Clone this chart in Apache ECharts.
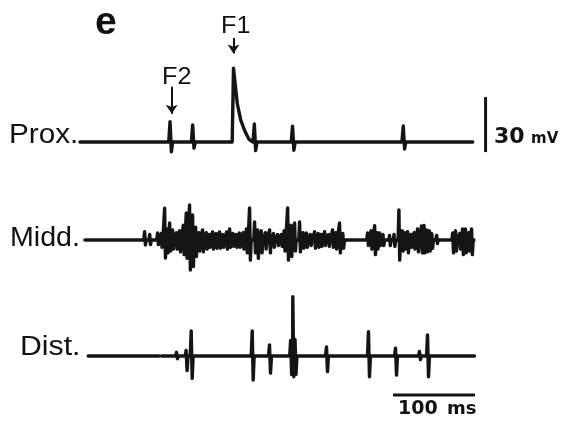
<!DOCTYPE html>
<html>
<head>
<meta charset="utf-8">
<script src="https://cdn.jsdelivr.net/npm/echarts@6/dist/echarts.min.js"></script>
<style>
  html, body { margin: 0; padding: 0; background: #fff; }
  #chart { width: 566px; height: 424px; }
</style>
</head>
<body>
<div id="chart"></div>
<script>
// 时间单位 ms，电压单位 mV（相对各自基线）；尖峰记为 [时间, 上峰, 下峰]
const proxRange = [0, 479];
const proxSpikes = [
    [110.6, 11.1, -5.3],
    [138.2, 9.3, -3.3],
    [213.4, 9.8, -4.7],
    [260.0, 8.6, -4.5],
    [395.0, 8.7, -3.8]
];
// F1 的波形单独描点
const proxF1 = [[185.6, 0], [187.2, 40.2], [188.6, 40.0], [191.8, 21.0], [196.0, 12.0], [201.0, 6.0], [206.0, 1.5], [211.0, 0]];

const middRange = [6, 480.5];
const middSpikes = [
    [79.3, 4.5, -2.7], [85.5, 3.0, -2.5], [95.1, 3.8, -2.5], [99.5, 3.5, -4.0],
    [103.7, 17.3, -9.8], [106.8, 6.0, -7.0], [109.8, 9.3, -6.0], [113.4, 5.5, -5.0],
    [118.0, 4.0, -5.0], [122.0, 5.0, -6.5], [126.5, 8.0, -8.0], [130.1, 14.7, -10.0],
    [134.1, 19.1, -16.4], [137.8, 13.6, -14.5], [141.5, 7.0, -9.0], [145.5, 4.0, -6.0],
    [150.0, 5.5, -6.5], [154.5, 4.0, -5.0], [158.0, 3.0, -4.0], [162.2, 4.4, -5.0],
    [166.5, 3.5, -4.5], [170.7, 4.4, -4.5], [174.8, 3.0, -4.0], [179.3, 4.4, -5.0],
    [183.0, 6.0, -4.0], [187.0, 3.5, -3.5], [191.0, 3.0, -4.0], [195.0, 3.8, -4.0],
    [199.5, 4.0, -5.0], [203.5, 6.0, -7.0], [207.3, 17.5, -11.0], [213.4, 9.8, -7.0],
    [217.0, 5.5, -10.0], [221.5, 5.0, -7.0], [226.5, 4.0, -5.0], [231.7, 5.5, -7.0],
    [236.5, 3.5, -4.0], [241.5, 3.0, -3.0], [246.0, 3.0, -3.5], [249.5, 5.0, -6.0],
    [253.7, 17.5, -11.0], [257.8, 8.0, -9.0], [262.2, 9.3, -6.0], [268.3, 9.8, -6.5],
    [272.5, 4.0, -4.5], [276.8, 3.8, -4.0], [281.5, 3.0, -3.0], [286.6, 4.5, -4.5],
    [291.0, 3.5, -4.0], [294.5, 3.0, -3.5], [298.8, 4.5, -3.0], [303.5, 3.0, -3.5],
    [308.5, 5.5, -4.0], [312.5, 4.0, -5.0], [317.0, 9.3, -7.0], [321.0, 3.5, -4.5],
    [351.2, 3.8, -3.0], [355.5, 5.0, -5.0], [359.8, 7.8, -8.0], [362.8, 4.0, -5.0],
    [365.9, 3.8, -3.0], [370.0, 3.0, -3.0], [378.0, 2.5, -3.0], [383.5, 3.0, -3.5],
    [389.4, 16.4, -11.0], [393.5, 5.0, -6.0], [396.5, 4.0, -5.0], [400.0, 4.5, -7.0],
    [404.0, 3.0, -4.0], [408.0, 4.0, -5.0], [412.2, 6.0, -6.5], [417.0, 7.6, -7.0],
    [420.0, 8.0, -7.0], [423.2, 5.5, -6.5], [426.5, 5.0, -6.0], [429.5, 3.5, -4.5],
    [435.4, 2.5, -2.0], [455.0, 3.8, -7.0], [458.5, 5.0, -6.0], [463.5, 3.5, -5.0],
    [467.0, 6.0, -8.0], [470.5, 6.0, -7.0], [474.5, 4.0, -6.0], [478.0, 6.0, -8.0]
];

const distRange = [10, 481];
const distGaps = [[96.5, 99.5]];
const distSpikes = [
    [118.3, 2.0, -1.5], [130.0, 3.0, -8.0], [136.2, 13.6, -12.2], [210.6, 13.6, -13.1],
    [231.7, 6.0, -9.3], [257.5, 8.5, -10.0], [260.1, 32.4, -11.3], [262.8, 9.0, -10.0],
    [301.2, 5.0, -8.5], [352.4, 13.3, -11.3], [385.4, 4.2, -10.4], [414.6, 2.5, -2.0],
    [424.4, 11.5, -11.3]
];

// 标尺与注释
const mVBar = [[494.6, -5.5], [494.6, 24.5]];          // 30 mV
const msBar = [[381.7, -21.3], [481.7, -21.3]];        // 100 ms
const arrowF1 = [[187.2, 56.7], [187.2, 48.3]];
const arrowF2 = [[111.8, 30.2], [111.8, 15.4]];

// 版面
const PX_PER_MS = 0.82;
const PX_PER_MV = 55 / 30;
const T_MAX = 580;
const GRID_LEFT = 80;
const rows = [
    { base: 142, yMin: -30, yMax: 75 },
    { base: 240, yMin: -30, yMax: 40 },
    { base: 356, yMin: -30, yMax: 40 }
];
const INK = '#141414';

// 把尖峰列表展开成折线点（hw: 尖峰底部半宽, ms）
function buildTrace(range, spikes, hw, shapes, gaps) {
    let tip = hw / 3;
    let events = spikes.map(([t, top, bottom]) => [[t - hw, 0], [t - tip, top], [t + tip, bottom], [t + hw, 0]]);
    (gaps || []).forEach(([g0, g1]) => events.push([[g0, 0], [g0, '-'], [g1, 0]]));
    if (shapes) events.push(shapes);
    events.sort((a, b) => a[0][0] - b[0][0]);
    let pts = [[range[0], 0]];
    events.forEach(ev => ev.forEach(p => pts.push(p)));
    pts.push([range[1], 0]);
    return pts;
}

const chart = echarts.init(document.getElementById('chart'), null, { renderer: 'canvas' });

const grids = rows.map(r => ({
    left: GRID_LEFT,
    width: T_MAX * PX_PER_MS,
    top: r.base - r.yMax * PX_PER_MV,
    height: (r.yMax - r.yMin) * PX_PER_MV
}));

function traceSeries(idx, data, extra) {
    return Object.assign({
        type: 'line',
        xAxisIndex: idx,
        yAxisIndex: idx,
        data: data,
        showSymbol: false,
        silent: true,
        clip: false,
        connectNulls: false,
        lineStyle: { color: INK, width: 3.4, join: 'round', cap: 'round' }
    }, extra || {});
}

const fontLabel = '"Liberation Sans", Arial, Helvetica, sans-serif';
const fontBold = '"DejaVu Sans", "Liberation Sans", sans-serif';

function label(text, x, y, size, scaleX) {
    return {
        type: 'text', x: x, y: y, scaleX: scaleX || 1,
        style: { text: text, fill: '#111', font: size + 'px ' + fontLabel, align: 'left', verticalAlign: 'middle' }
    };
}

chart.setOption({
    animation: false,
    backgroundColor: '#ffffff',
    grid: grids,
    xAxis: rows.map((r, i) => ({ type: 'value', gridIndex: i, min: 0, max: T_MAX, show: false })),
    yAxis: rows.map((r, i) => ({ type: 'value', gridIndex: i, min: r.yMin, max: r.yMax, show: false })),
    series: [
        traceSeries(0, buildTrace(proxRange, proxSpikes, 2.4, proxF1), {
            markLine: {
                silent: true,
                symbol: ['none', 'arrow'],
                symbolSize: 9,
                label: { show: false },
                lineStyle: { color: INK, width: 2, type: 'solid' },
                data: [
                    [{ coord: arrowF1[0] }, { coord: arrowF1[1] }],
                    [{ coord: arrowF2[0] }, { coord: arrowF2[1] }]
                ]
            }
        }),
        traceSeries(1, buildTrace(middRange, middSpikes, 1.5)),
        traceSeries(2, buildTrace(distRange, distSpikes, 1.8, null, distGaps)),
        traceSeries(0, mVBar, { lineStyle: { color: INK, width: 3, cap: 'butt' } }),
        traceSeries(2, msBar, { lineStyle: { color: INK, width: 3, cap: 'butt' } })
    ],
    graphic: [
        { type: 'text', x: 95, y: 23, style: { text: 'e', fill: '#111', font: 'bold 39px "Liberation Sans", Arial, sans-serif', align: 'left', verticalAlign: 'middle' } },
        label('F1', 221, 26, 24, 1.05),
        label('F2', 162, 77, 24, 1.05),
        label('Prox.', 9, 136, 27, 1.1),
        label('Midd.', 10, 239, 27, 1.06),
        label('Dist.', 20, 348, 27, 1.12),
        { type: 'text', x: 494, y: 137.5, style: { text: '30', fill: '#111', font: 'bold 22px ' + fontBold, align: 'left', verticalAlign: 'middle' } },
        { type: 'text', x: 531, y: 139.5, style: { text: 'mV', fill: '#111', font: 'bold 15px ' + fontBold, align: 'left', verticalAlign: 'middle' } },
        { type: 'text', x: 398, y: 409, style: { text: '100', fill: '#111', font: 'bold 19px ' + fontBold, align: 'left', verticalAlign: 'middle' } },
        { type: 'text', x: 447, y: 409.5, style: { text: 'ms', fill: '#111', font: 'bold 18px ' + fontBold, align: 'left', verticalAlign: 'middle' } }
    ]
});
</script>
</body>
</html>
